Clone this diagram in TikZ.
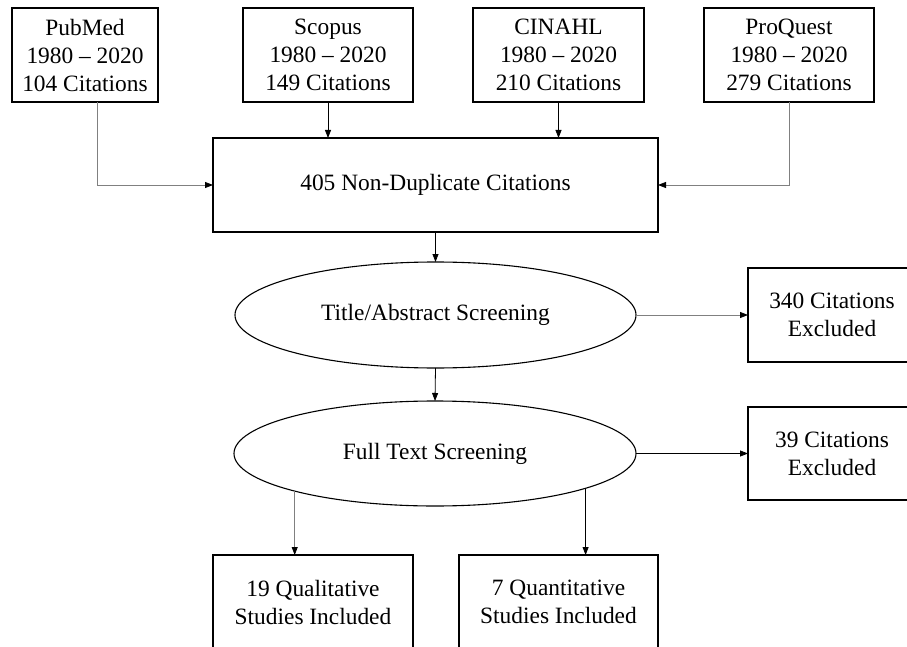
\documentclass[tikz,border=0pt]{standalone}
\usepackage{fontspec}
\setmainfont{Liberation Serif}
\usetikzlibrary{arrows.meta,shapes.geometric}
\definecolor{linegray}{gray}{0.5}
\begin{document}
\begin{tikzpicture}[x=1pt,y=-1pt,
  txt/.style={font=\fontsize{23.4}{28}\selectfont,align=center},
  box/.style={txt,draw=black,line width=1.1pt,rectangle,inner sep=0pt,outer sep=0pt},
  oval/.style={txt,draw=black,line width=1.1pt,ellipse,inner sep=0pt,outer sep=0pt},
  blk/.style={draw=black,line width=0.8pt,-{Triangle[length=8pt,width=6pt]}},
  gry/.style={draw=linegray,line width=0.8pt,-{Triangle[length=8pt,width=6pt,color=black]}}]
\useasboundingbox (0,0) rectangle (907,647);
\clip (0,0) rectangle (907,647);

% sources
\node[box,minimum width=146pt,minimum height=94pt] (pub) at (85,55) {PubMed\\1980 – 2020\\104 Citations};
\node[box,minimum width=170pt,minimum height=94pt] (sco) at (328,55) {Scopus\\1980 – 2020\\149 Citations};
\node[box,minimum width=171pt,minimum height=94pt] (cin) at (558.5,55) {CINAHL\\1980 – 2020\\210 Citations};
\node[box,minimum width=170pt,minimum height=94pt] (pro) at (789,55) {ProQuest\\1980 – 2020\\279 Citations};

% main
\node[box,minimum width=445pt,minimum height=94pt] (main) at (435.5,185) {405 Non-Duplicate Citations};

% screenings
\node[oval,minimum width=401pt,minimum height=106pt] (e1) at (435.5,315) {Title/Abstract Screening};
\node[oval,minimum width=402pt,minimum height=105pt] (e2) at (435,453.5) {Full Text Screening};

% excluded
\node[box,minimum width=168pt,minimum height=94pt] (ex1) at (832,315) {340 Citations\\Excluded};
\node[box,minimum width=168pt,minimum height=93pt] (ex2) at (832,453.5) {39 Citations\\Excluded};

% included
\node[box,minimum width=200pt,minimum height=94pt] (qual) at (313,602) {19 Qualitative\\Studies Included};
\node[box,minimum width=199pt,minimum height=94pt] (quant) at (558.5,602) {7 Quantitative\\Studies Included};

% connectors
\draw[gry] ([xshift=12pt]pub.south) |- (main.west);
\draw[blk] (sco.south) -- (sco.south |- main.north);
\draw[blk] (cin.south) -- (cin.south |- main.north);
\draw[gry] (pro.south) |- (main.east);
\draw[blk] (main.south) -- (e1.north);
\draw[gry] (e1.east) -- (ex1.west);
\draw[blk] (e1.south) -- (e2.north);
\draw[blk] (e2.east) -- (ex2.west);
\draw[gry] (e2.195) -- (e2.195 |- qual.north);
\draw[blk] (e2.347) -- (e2.347 |- quant.north);
\end{tikzpicture}
\end{document}
